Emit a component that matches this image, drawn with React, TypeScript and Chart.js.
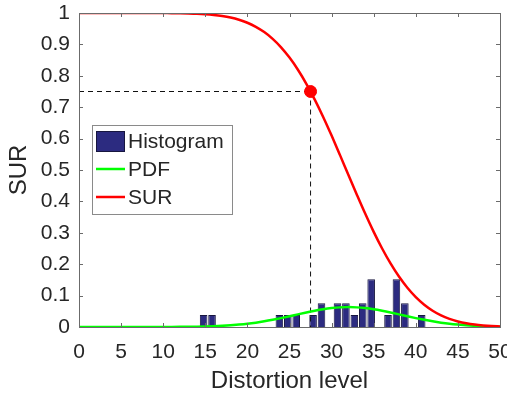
import React, { useEffect, useRef } from "react";
import { Chart, registerables } from "chart.js";

Chart.register(...registerables);

// Histogram bins (centres) and heights
const histCenters = [14.8, 15.8, 23.8, 24.8, 25.8, 27.8, 28.8, 30.7, 31.7, 32.7, 33.7, 34.7, 36.7, 37.7, 38.7, 40.7];
const histHeights = [0.038, 0.038, 0.038, 0.038, 0.038, 0.038, 0.076, 0.076, 0.076, 0.038, 0.076, 0.152, 0.038, 0.152, 0.076, 0.038];

// Curve sample positions
const curveX = [0, 1, 2, 3, 4, 5, 6, 7, 8, 9, 10, 11, 12, 13, 14, 15, 16, 17, 18, 19, 20, 21, 22, 23, 24, 25, 26, 27, 28, 29, 30, 31, 32, 33, 34, 35, 36, 37, 38, 39, 40, 41, 42, 43, 44, 45, 46, 47, 48, 49, 50];
const pdfY = [0, 0, 0, 0, 0, 0, 0, 0, 0, 0, 0.0001, 0.0002, 0.0004, 0.0007, 0.0011, 0.0017, 0.0025, 0.0037, 0.0054, 0.0076, 0.0103, 0.0138, 0.018, 0.0229, 0.0283, 0.0341, 0.0403, 0.0463, 0.0518, 0.0566, 0.0602, 0.0625, 0.0633, 0.0625, 0.0602, 0.0566, 0.0518, 0.0463, 0.0403, 0.0341, 0.0283, 0.0229, 0.018, 0.0138, 0.0103, 0.0076, 0.0054, 0.0037, 0.0025, 0.0017, 0.0011];
const surY = [1, 1, 1, 1, 1, 1, 1, 1, 1, 1, 0.9997, 0.9995, 0.9991, 0.9985, 0.9976, 0.9961, 0.9938, 0.9904, 0.9855, 0.9785, 0.9689, 0.956, 0.9392, 0.9176, 0.8907, 0.858, 0.8194, 0.7746, 0.7241, 0.6689, 0.6095, 0.5474, 0.484, 0.4215, 0.3605, 0.3029, 0.2499, 0.2024, 0.1606, 0.1249, 0.0951, 0.071, 0.0519, 0.037, 0.0259, 0.0177, 0.0118, 0.0077, 0.005, 0.0031, 0.0019];

// Threshold point
const thresholdX = 27.5;
const thresholdY = 0.75;

const xMin = 0, xMax = 50, xStep = 5;
const yMin = 0, yMax = 1, yStep = 0.1;

const legendLabels = ["Histogram", "PDF", "SUR"];

const FONT = "'Liberation Sans', Arial, sans-serif";
const TEXT = "#262626";
const AXIS = "#6b6b6b";
const BAR_FILL = "#2c2b80";
const BAR_EDGE = "#17163f";
const GREEN = "#00ff00";
const RED = "#ff0000";

const boxPlugin = {
  id: "boxAndTicks",
  afterDatasetsDraw(chart: any) {
    const { ctx, chartArea: a, scales } = chart;
    const tl = 4;
    ctx.save();
    ctx.strokeStyle = AXIS;
    ctx.lineWidth = 1;
    ctx.beginPath();
    const xs = scales.x, ys = scales.y;
    for (const t of xs.ticks) {
      const px = Math.round(xs.getPixelForValue(t.value)) + 0.5;
      ctx.moveTo(px, a.bottom);
      ctx.lineTo(px, a.bottom - tl);
      ctx.moveTo(px, a.top);
      ctx.lineTo(px, a.top + tl);
    }
    for (const t of ys.ticks) {
      const py = Math.round(ys.getPixelForValue(t.value)) + 0.5;
      ctx.moveTo(a.left, py);
      ctx.lineTo(a.left + tl, py);
      ctx.moveTo(a.right, py);
      ctx.lineTo(a.right - tl, py);
    }
    ctx.stroke();
    ctx.strokeRect(Math.round(a.left) + 0.5, Math.round(a.top) + 0.5, Math.round(a.right - a.left), Math.round(a.bottom - a.top));

    // legend
    const lx = 92, ly = 125, lw = 140, lh = 89;
    ctx.fillStyle = "#ffffff";
    ctx.fillRect(lx, ly, lw, lh);
    ctx.strokeStyle = "#8a8a8a";
    ctx.strokeRect(lx + 0.5, ly + 0.5, lw, lh);
    ctx.fillStyle = BAR_FILL;
    ctx.fillRect(96, 131, 29, 21);
    ctx.strokeStyle = BAR_EDGE;
    ctx.strokeRect(96.5, 131.5, 28, 20);
    ctx.lineWidth = 2.5;
    ctx.strokeStyle = GREEN;
    ctx.beginPath();
    ctx.moveTo(96, 169);
    ctx.lineTo(125, 169);
    ctx.stroke();
    ctx.strokeStyle = RED;
    ctx.beginPath();
    ctx.moveTo(96, 197);
    ctx.lineTo(125, 197);
    ctx.stroke();
    ctx.fillStyle = TEXT;
    ctx.font = `21px ${FONT}`;
    ctx.textBaseline = "middle";
    ctx.textAlign = "left";
    ctx.fillText(legendLabels[0], 128, 142);
    ctx.fillText(legendLabels[1], 128, 170);
    ctx.fillText(legendLabels[2], 128, 198);
    ctx.restore();
  },
};

export default function App() {
  const ref = useRef<HTMLCanvasElement>(null);
  useEffect(() => {
    if (!ref.current) return;
    const chart = new Chart(ref.current, {
      type: "bar",
      data: {
        datasets: [
          {
            type: "scatter" as any,
            label: "point",
            data: [{ x: thresholdX, y: thresholdY }],
            pointRadius: 6,
            pointBackgroundColor: RED,
            pointBorderColor: RED,
            order: 0,
          } as any,
          {
            type: "line",
            label: legendLabels[2],
            data: curveX.map((x, i) => ({ x, y: surY[i] })),
            borderColor: RED,
            borderWidth: 2.5,
            pointRadius: 0,
            cubicInterpolationMode: "monotone",
            fill: false,
            order: 1,
          },
          {
            type: "line",
            label: legendLabels[1],
            data: curveX.map((x, i) => ({ x, y: pdfY[i] })),
            borderColor: GREEN,
            borderWidth: 2.5,
            pointRadius: 0,
            cubicInterpolationMode: "monotone",
            fill: false,
            order: 2,
          },
          {
            type: "line",
            label: "hline",
            data: [{ x: xMin, y: thresholdY }, { x: thresholdX, y: thresholdY }],
            borderColor: "#111111",
            borderWidth: 1,
            borderDash: [5, 4],
            pointRadius: 0,
            order: 3,
          },
          {
            type: "line",
            label: "vline",
            data: [{ x: thresholdX, y: thresholdY }, { x: thresholdX, y: yMin }],
            borderColor: "#111111",
            borderWidth: 1,
            borderDash: [5, 4],
            pointRadius: 0,
            order: 3,
          },
          {
            type: "bar",
            label: legendLabels[0],
            data: histCenters.map((x, i) => ({ x, y: histHeights[i] })),
            backgroundColor: BAR_FILL,
            borderColor: BAR_EDGE,
            borderWidth: 1,
            barPercentage: 0.9,
            categoryPercentage: 1,
            order: 4,
          } as any,
        ],
      },
      options: {
        animation: false,
        responsive: false,
        devicePixelRatio: 1,
        layout: { padding: { top: 13, right: 7, left: 0, bottom: 0 } },
        plugins: { legend: { display: false }, tooltip: { enabled: false } },
        scales: {
          x: {
            type: "linear",
            min: xMin,
            max: xMax,
            offset: false,
            grid: { display: false, drawTicks: false },
            border: { display: false },
            ticks: {
              stepSize: xStep,
              autoSkip: false,
              maxRotation: 0,
              padding: 13,
              color: TEXT,
              font: { family: FONT, size: 21 },
            },
            title: {
              display: true,
              text: "Distortion level",
              color: TEXT,
              padding: { top: 0, bottom: 0 },
              font: { family: FONT, size: 24 },
            },
            afterFit: (s: any) => {
              s.height = 69;
              s.paddingLeft = 0;
              s.paddingRight = 0;
            },
          },
          y: {
            type: "linear",
            min: yMin,
            max: yMax,
            grid: { display: false, drawTicks: false },
            border: { display: false },
            ticks: {
              stepSize: yStep,
              autoSkip: false,
              padding: 9,
              color: TEXT,
              font: { family: FONT, size: 21 },
              callback: (v: any) => String(Math.round(Number(v) * 10) / 10),
            },
            title: {
              display: true,
              text: "SUR",
              color: TEXT,
              padding: { top: 5, bottom: 0 },
              font: { family: FONT, size: 24 },
            },
            afterFit: (s: any) => {
              s.width = 79;
              s.paddingTop = 0;
              s.paddingBottom = 0;
            },
          },
        },
      },
      plugins: [boxPlugin],
    } as any);
    return () => chart.destroy();
  }, []);
  return (
    <div style={{ position: "absolute", left: 0, top: 0, width: 507, height: 396, background: "#fff" }}>
      <canvas ref={ref} width={507} height={396} />
    </div>
  );
}
